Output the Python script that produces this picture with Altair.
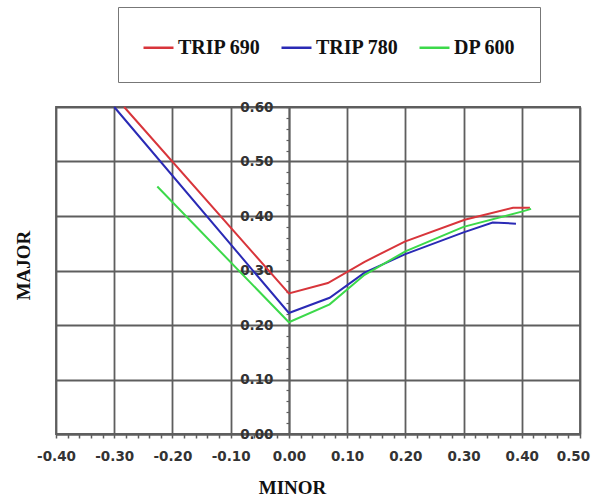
import altair as alt
import pandas as pd

# ---- data ----
series_names = ["TRIP 690", "TRIP 780", "DP 600"]
series_colors = ["#d8353b", "#2a2ab5", "#3cd94a"]

trip690_minor = [-0.283, 0.0, 0.067, 0.13, 0.199, 0.302, 0.385, 0.414]
trip690_major = [0.600, 0.258, 0.277, 0.316, 0.353, 0.393, 0.415, 0.415]

trip780_minor = [-0.300, 0.0, 0.07, 0.13, 0.20, 0.30, 0.35, 0.39]
trip780_major = [0.600, 0.222, 0.250, 0.296, 0.330, 0.370, 0.388, 0.386]

dp600_minor = [-0.226, 0.0, 0.07, 0.13, 0.20, 0.30, 0.40, 0.416]
dp600_major = [0.454, 0.205, 0.238, 0.292, 0.335, 0.380, 0.408, 0.413]

# axis tick values (major every 0.10, minor every 0.02)
x_ticks = [round(-0.40 + 0.02 * i, 2) for i in range(46)]
y_ticks = [round(0.02 * i, 2) for i in range(31)]

rows = []
for name, xs, ys in [
    ("TRIP 690", trip690_minor, trip690_major),
    ("TRIP 780", trip780_minor, trip780_major),
    ("DP 600", dp600_minor, dp600_major),
]:
    for i, (a, b) in enumerate(zip(xs, ys)):
        rows.append({"series": name, "minor": a, "major": b, "idx": i})
df = pd.DataFrame(rows)

W, H = 524, 327
major_test = "abs(datum.value*10 - round(datum.value*10)) < 0.001"
label_expr = ("abs(datum.value*10 - round(datum.value*10)) < 0.001 ? "
              "replace(format(datum.value, '.2f'), '\u2212', '-') : ''")
grid_op = {"condition": {"test": major_test, "value": 1}, "value": 0}
# keep the last x label inside the picture
last_label_shift = {"condition": {"test": "datum.value > 0.49", "value": -7}, "value": 0}

GRID = "#5e5e5e"
LABEL_FONT_SIZE = 13.5

x_axis = alt.Axis(
    values=x_ticks, labelExpr=label_expr, title="MINOR",
    titleFont="Liberation Serif", titleFontSize=19, titleFontWeight="bold",
    titleColor="#111111", titleX=236, titleY=53, titleAlign="center",
    titleBaseline="middle",
    labelFont="DejaVu Sans", labelFontSize=LABEL_FONT_SIZE, labelFontWeight="bold",
    labelColor="#333333", labelPadding=11, labelOverlap=False,
    labelFlush=False, labelBound=False, labelOffset=last_label_shift,
    tickSize=4, tickColor=GRID, tickWidth=1.5,
    domainColor=GRID, domainWidth=1.8,
    grid=True, gridColor=GRID, gridWidth=1.8, gridOpacity=grid_op,
)

y_axis = alt.Axis(
    values=y_ticks, labelExpr=label_expr, title="MAJOR", offset=-233,
    titleFont="Liberation Serif", titleFontSize=19, titleFontWeight="bold",
    titleColor="#111111", titleX=-266, titleY=158, titleAngle=270,
    titleAlign="center", titleBaseline="middle",
    labelFont="DejaVu Sans", labelFontSize=LABEL_FONT_SIZE, labelFontWeight="bold",
    labelColor="#333333", labelPadding=13, labelOverlap=False,
    labelFlush=False, labelBound=False,
    tickSize=3, tickColor=GRID, tickWidth=1.2,
    domainColor=GRID, domainWidth=1.8,
    grid=True, gridColor=GRID, gridWidth=1.8, gridOpacity=grid_op,
)

legend = alt.Legend(
    title=None, orient="none", legendX=62, legendY=-100,
    direction="horizontal", symbolType="stroke", symbolSize=900,
    symbolStrokeWidth=2.5, labelFont="Liberation Serif", labelFontSize=20,
    labelFontWeight="bold", labelColor="#111111", labelOffset=3,
    columnPadding=15, padding=24, strokeColor="#777777", fillColor="white",
)

chart = (
    alt.Chart(df)
    .mark_line(strokeWidth=2)
    .encode(
        x=alt.X("minor:Q", scale=alt.Scale(domain=[-0.4, 0.5], nice=False, zero=False), axis=x_axis),
        y=alt.Y("major:Q", scale=alt.Scale(domain=[0, 0.6], nice=False), axis=y_axis),
        color=alt.Color("series:N", sort=series_names,
                        scale=alt.Scale(domain=series_names, range=series_colors),
                        legend=legend),
        order="idx:Q",
    )
    .properties(
        width=W, height=H,
        autosize=alt.AutoSizeParams(type="none"),
        padding={"left": 56, "top": 107, "right": 14, "bottom": 63},
        background="white",
    )
    .configure_view(stroke=GRID, strokeWidth=1.8)
)

chart.save("out.html", embed_options={"renderer": "svg", "actions": False})
